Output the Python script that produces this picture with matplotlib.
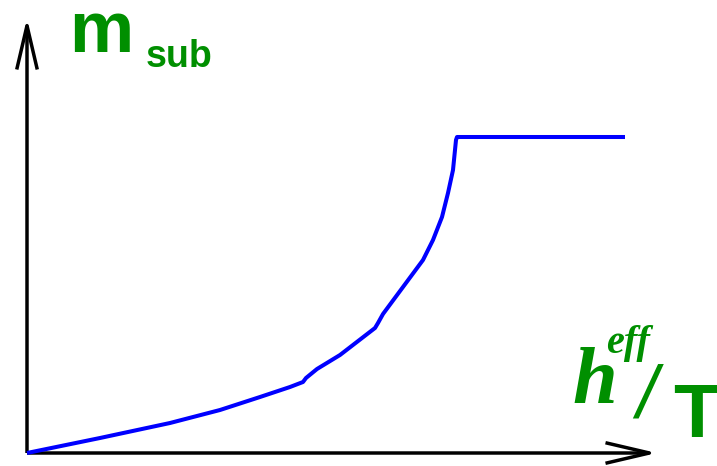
import matplotlib
matplotlib.use("Agg")
import matplotlib.pyplot as plt
from matplotlib.patches import FancyArrowPatch

# h_eff / T on x, m_sub on y (arbitrary units)
h_over_T = [0.0, 0.73, 1.43, 1.93, 2.33, 2.63, 2.76, 2.79, 2.90, 3.13, 3.48,
            3.51, 3.56, 3.76, 3.96, 4.06, 4.15, 4.21, 4.26, 4.28, 4.29, 4.30, 5.98]
m_sub = [0.0, 0.15, 0.30, 0.43, 0.56, 0.66, 0.71, 0.75, 0.84, 0.98, 1.25,
         1.30, 1.39, 1.66, 1.93, 2.13, 2.36, 2.60, 2.83, 3.03, 3.13, 3.16, 3.16]

green = "#008f00"

fig = plt.figure(figsize=(7.17, 4.66), dpi=100)
ax = fig.add_axes([0, 0, 1, 1])
ax.set_xlim(-0.27, 6.90)
ax.set_ylim(-0.13, 4.53)
ax.axis("off")

# axes drawn as open arrows
for end in [(6.30, 0.0), (0.0, 4.35)]:
    arr = FancyArrowPatch((0, 0), end, arrowstyle="->,head_length=1.58,head_width=0.37",
                          mutation_scale=20, lw=2.5, color="black",
                          shrinkA=0, shrinkB=0, capstyle="butt")
    ax.add_patch(arr)

ax.plot(h_over_T, m_sub, color="#0000ff", lw=2.9, solid_joinstyle="round",
        solid_capstyle="butt")

def px(x, y):
    return x / 717, 1 - y / 466

sans = ["Liberation Sans", "DejaVu Sans"]
serif = ["Liberation Serif", "DejaVu Serif"]
fig.text(*px(69, 52), "m", color=green, fontsize=52, fontweight="bold", family=sans)
fig.text(*px(146, 67), "sub", color=green, fontsize=27, fontweight="bold", family=sans)
fig.text(*px(572, 403), "h", color=green, fontsize=58, fontweight="bold",
         fontstyle="italic", family=serif)
fig.text(*px(606, 353), "eff", color=green, fontsize=29, fontweight="bold",
         fontstyle="italic", family=serif)
fig.text(*px(636, 418), "/", color=green, fontsize=53, fontstyle="italic", family=sans)
fig.text(*px(673, 437), "T", color=green, fontsize=55, fontweight="bold", family=sans)

fig.savefig("out.png", dpi=100)
